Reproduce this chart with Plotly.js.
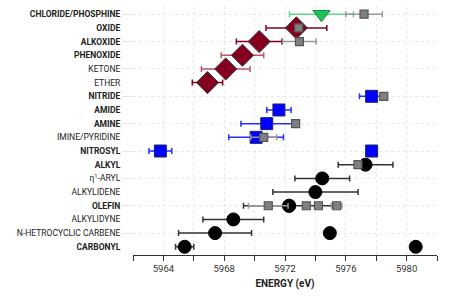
<!DOCTYPE html>
<html><head><meta charset="utf-8">
<script src="https://cdn.plot.ly/plotly-3.0.1.min.js"></script>
<style>html,body{margin:0;padding:0;background:#fff}#c{width:468px;height:296px}</style>
</head><body><div id="c"></div>
<script>
// categories, top to bottom
const categories = ["CHLORIDE/PHOSPHINE","OXIDE","ALKOXIDE","PHENOXIDE","KETONE","ETHER","NITRIDE","AMIDE","AMINE","IMINE/PYRIDINE","NITROSYL","ALKYL","η1-ARYL","ALKYLIDENE","OLEFIN","ALKYLIDYNE","N-HETROCYCLIC CARBENE","CARBONYL"];
const tickLabels = ["<b>CHLORIDE/PHOSPHINE</b>","<b>OXIDE</b>","<b>ALKOXIDE</b>","<b>PHENOXIDE</b>","KETONE","ETHER","<b>NITRIDE</b>","<b>AMIDE</b>","<b>AMINE</b>","IMINE/PYRIDINE","<b>NITROSYL</b>","<b>ALKYL</b>","η<sup>1</sup>-ARYL","ALKYLIDENE","<b>OLEFIN</b>","ALKYLIDYNE","N-HETROCYCLIC CARBENE","<b>CARBONYL</b>"];

// gray reference squares
const grayCat = ["CHLORIDE/PHOSPHINE","OXIDE","ALKOXIDE","NITRIDE","AMINE","IMINE/PYRIDINE","ALKYL","OLEFIN","OLEFIN","OLEFIN","OLEFIN"];
const grayX   = [5977.2, 5972.9, 5972.95, 5978.5, 5972.7, 5970.6, 5976.8, 5970.9, 5973.4, 5974.2, 5975.4];
const grayErr = [1.2, 0, 1.1, 0, 0, 0.85, 0, 1.3, 0.2, 0.2, 0.35];

// green triangle
const greenCat = ["CHLORIDE/PHOSPHINE"];
const greenX   = [5974.4];
const greenErr = [2.1];

// red diamonds (dark error bars)
const redCat = ["OXIDE","ALKOXIDE","ETHER"];
const redX   = [5972.75, 5970.3, 5966.9];
const redErr = [2.0, 1.5, 1.0];
// red diamonds (light error bars)
const red2Cat = ["PHENOXIDE","KETONE"];
const red2X   = [5969.2, 5968.1];
const red2Err = [1.4, 1.6];

// blue squares
const blueCat = ["NITRIDE","AMIDE","AMINE","IMINE/PYRIDINE","NITROSYL","NITROSYL"];
const blueX   = [5977.7, 5971.6, 5970.8, 5970.1, 5963.8, 5977.7];
const blueErr = [0.8, 0.8, 1.7, 1.8, 0.75, 0.3];

// black circles
const blackCat = ["ALKYL","η1-ARYL","ALKYLIDENE","OLEFIN","OLEFIN","ALKYLIDYNE","N-HETROCYCLIC CARBENE","N-HETROCYCLIC CARBENE","CARBONYL","CARBONYL"];
const blackX   = [5977.3, 5974.45, 5974.0, 5972.27, 5972.27, 5968.6, 5967.4, 5974.95, 5965.4, 5980.6];
const blackErr = [1.8, 1.8, 2.8, 3.0, 0.3, 2.0, 2.4, 0, 0.6, 0];

const idx = arr => arr.map(c => categories.indexOf(c));

function tr(cat, x, err, marker, ecolor, yaxis) {
  return {type:'scatter', mode:'markers', x:x, y:idx(cat), yaxis: yaxis||'y',
    marker:marker, hoverinfo:'skip', showlegend:false,
    error_x:{type:'data', array:err, symmetric:true, color:ecolor, thickness:1.5, width:3}};
}

const data = [
  tr(blackCat, blackX, blackErr, {symbol:'circle', size:13, color:'#000', line:{color:'#000', width:1}}, '#333'),
  tr(blueCat, blueX, blueErr, {symbol:'square', size:12, color:'#0000ff', line:{color:'#222266', width:1}}, '#2030ff'),
  tr(redCat, redX, redErr, {symbol:'diamond', size:17, color:'#85001e', line:{color:'#333', width:1}}, '#85001e'),
  tr(red2Cat, red2X, red2Err, {symbol:'diamond', size:17, color:'#85001e', line:{color:'#333', width:1}}, '#b8566a'),
  tr(greenCat, greenX, greenErr, {symbol:'triangle-down', size:15, color:'#1fbf5a', line:{color:'#1a8a40', width:1}}, '#5fd48a'),
  tr(grayCat, grayX, grayErr, {symbol:'square', size:8, color:'#808080', line:{color:'#555', width:1.2}}, '#999', 'y2')
];

const evens = [0,2,4,6,8,10,12,14,16];
const allTicks = categories.map((c,i)=>i);
const yr = [17.6, -0.6];

const layout = {
  width:468, height:296,
  margin:{l:133, r:31, t:6, b:41},
  paper_bgcolor:'#fff', plot_bgcolor:'#fff',
  font:{family:'Roboto, sans-serif', color:'#222'},
  xaxis:{range:[5962,5982], tickmode:'linear', tick0:5964, dtick:4,
    showgrid:true, gridcolor:'#e8e8e8', griddash:'dot', zeroline:false,
    showline:true, linecolor:'#333', linewidth:1,
    ticks:'outside', ticklen:5, tickcolor:'#333',
    minor:{dtick:2, tick0:5962, ticks:'outside', ticklen:5, tickcolor:'#333', showgrid:true, gridcolor:'#e8e8e8', griddash:'dot'},
    tickfont:{size:9.5, color:'#333'},
    title:{text:'<b>ENERGY (eV)</b>', font:{size:10, color:'#222'}, standoff:6}},
  yaxis:{range:yr, tickmode:'array', tickvals:allTicks, ticktext:tickLabels,
    showgrid:false, zeroline:false, showline:false,
    ticks:'outside', ticklen:10, tickcolor:'rgba(0,0,0,0)',
    tickfont:{size:8.5, color:'#222'}},
  yaxis2:{overlaying:'y', matches:'y', side:'left', range:yr, tickmode:'array', tickvals:evens,
    showticklabels:false, showgrid:true, gridcolor:'#e8e8e8', griddash:'dot',
    zeroline:false, showline:false, ticks:'outside', ticklen:10, tickcolor:'#e4e4e4'}
};

Plotly.newPlot('c', data, layout, {displayModeBar:false, staticPlot:true});
</script></body></html>
